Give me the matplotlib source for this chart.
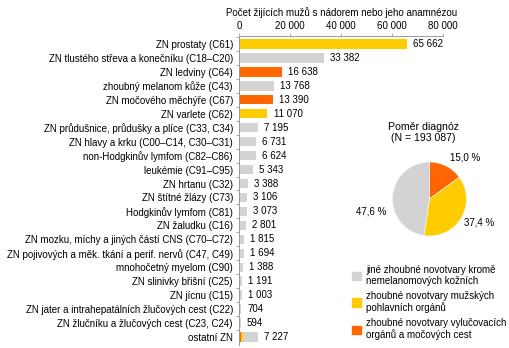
import matplotlib
matplotlib.use("Agg")
import matplotlib.pyplot as plt
from matplotlib.patches import Patch
import numpy as np

plt.rcParams['font.family'] = ['Liberation Sans', 'DejaVu Sans']

categories = [
    "ZN prostaty (C61)",
    "ZN tlustého střeva a konečníku (C18–C20)",
    "ZN ledviny (C64)",
    "zhoubný melanom kůže (C43)",
    "ZN močového měchýře (C67)",
    "ZN varlete (C62)",
    "ZN průdušnice, průdušky a plíce (C33, C34)",
    "ZN hlavy a krku (C00–C14, C30–C31)",
    "non-Hodgkinův lymfom (C82–C86)",
    "leukémie (C91–C95)",
    "ZN hrtanu (C32)",
    "ZN štítné žlázy (C73)",
    "Hodgkinův lymfom (C81)",
    "ZN žaludku (C16)",
    "ZN mozku, míchy a jiných částí CNS (C70–C72)",
    "ZN pojivových a měk. tkání a perif. nervů (C47, C49)",
    "mnohočetný myelom (C90)",
    "ZN slinivky břišní (C25)",
    "ZN jícnu (C15)",
    "ZN jater a intrahepatálních žlučových cest (C22)",
    "ZN žlučníku a žlučových cest (C23, C24)",
]
values = [65662, 33382, 16638, 13768, 13390, 11070, 7195, 6731, 6624, 5343,
          3388, 3106, 3073, 2801, 1815, 1694, 1388, 1191, 1003, 704, 594]
groups = ["m", "o", "u", "o", "u", "m", "o", "o", "o", "o",
          "o", "o", "o", "o", "o", "o", "o", "o", "o", "o", "o"]

other_label = "ostatní ZN"
other_urinary = 600
other_male = 800
other_rest = 5827
other_total = 7227

pie_values = [15.0, 37.4, 47.6]
pie_labels = ["15,0 %", "37,4 %", "47,6 %"]
pie_title = "Poměr diagnóz\n(N = 193 087)"
legend_labels = [
    "jiné zhoubné novotvary kromě\nnemelanomových kožních",
    "zhoubné novotvary mužských\npohlavních orgánů",
    "zhoubné novotvary vylučovacích\norgánů a močových cest",
]
xticks = [0, 20000, 40000, 60000, 80000]
xlabel = "Počet žijících mužů s nádorem nebo jeho anamnézou"

colors = {"m": "#FFCC00", "u": "#FF6600", "o": "#D3D3D3"}

def fmt(v):
    return f"{v:,}".replace(",", " ")

fig = plt.figure(figsize=(5.1, 3.48), dpi=100)
ax = fig.add_axes([0.469, 0.0086, 0.4, 0.888])

fs = 7.0
n = len(categories)
ypos = list(range(n))
ax.barh(ypos, values, height=0.7, color=[colors[g] for g in groups])
yo = n
ax.barh(yo, other_urinary, height=0.7, color=colors["u"])
ax.barh(yo, other_male, left=other_urinary, height=0.7, color=colors["m"])
ax.barh(yo, other_rest, left=other_urinary + other_male, height=0.7, color=colors["o"])

off = 2400
for y, v in zip(ypos, values):
    ax.text(v + off, y, fmt(v), va="center", ha="left", fontsize=fs)
ax.text(other_total + off, yo, fmt(other_total), va="center", ha="left", fontsize=fs)

ax.set_yticks(ypos + [yo])
ax.set_yticklabels(categories + [other_label], fontsize=fs)
ax.set_yticks(np.arange(-0.5, n + 0.5, 1.0), minor=True)
ax.set_ylim(n + 0.55, -0.55)
ax.set_xlim(0, 80000)
ax.xaxis.tick_top()
ax.xaxis.set_label_position("top")
ax.set_xticks(xticks)
ax.set_xticklabels([fmt(t) for t in xticks], fontsize=fs)
ax.set_xlabel(xlabel, fontsize=fs, labelpad=4)
for s in ["right", "bottom"]:
    ax.spines[s].set_visible(False)
for s in ["top", "left"]:
    ax.spines[s].set_color("#999999")
    ax.spines[s].set_linewidth(0.7)
ax.tick_params(axis="x", direction="out", length=2.5, width=0.6, color="#999999", pad=0.8)
ax.tick_params(axis="y", which="major", length=0, pad=4.5)
ax.tick_params(axis="y", which="minor", length=2, width=0.6, color="#999999", direction="out")

# pie
pw, ph = 92.5 / 510, 92.5 / 348
pcx, pcy = 429.5 / 510, 1 - 199 / 348
pax = fig.add_axes([pcx - pw / 2, pcy - ph / 2, pw, ph])
pax.pie(pie_values, colors=[colors["u"], colors["m"], colors["o"]],
        startangle=90, counterclock=False,
        wedgeprops={"linewidth": 0.5, "edgecolor": "#f4f4f4"})
pax.set_aspect("equal")
pax.set_xlim(-1.25, 1.25)
pax.set_ylim(-1.25, 1.25)
label_pos = [(0.96, 1.12), (1.34, -0.63), (-1.58, -0.33)]
for (lx, ly), lab in zip(label_pos, pie_labels):
    pax.text(lx, ly, lab, ha="center", va="center", fontsize=fs, clip_on=False)
fig.text(423 / 510, 1 - 132.5 / 348, pie_title, ha="center", va="center",
         fontsize=7.6, linespacing=1.15)

handles = [Patch(color=colors["o"]), Patch(color=colors["m"]), Patch(color=colors["u"])]
leg = fig.legend(handles, legend_labels, loc="lower left", bbox_to_anchor=(0.682, 0.012),
                 frameon=False, fontsize=fs, handlelength=0.95, handleheight=0.95,
                 handletextpad=0.5, labelspacing=0.55, borderaxespad=0)
for t in leg.get_texts():
    t.set_linespacing(1.1)

fig.savefig("out.png", dpi=100)
